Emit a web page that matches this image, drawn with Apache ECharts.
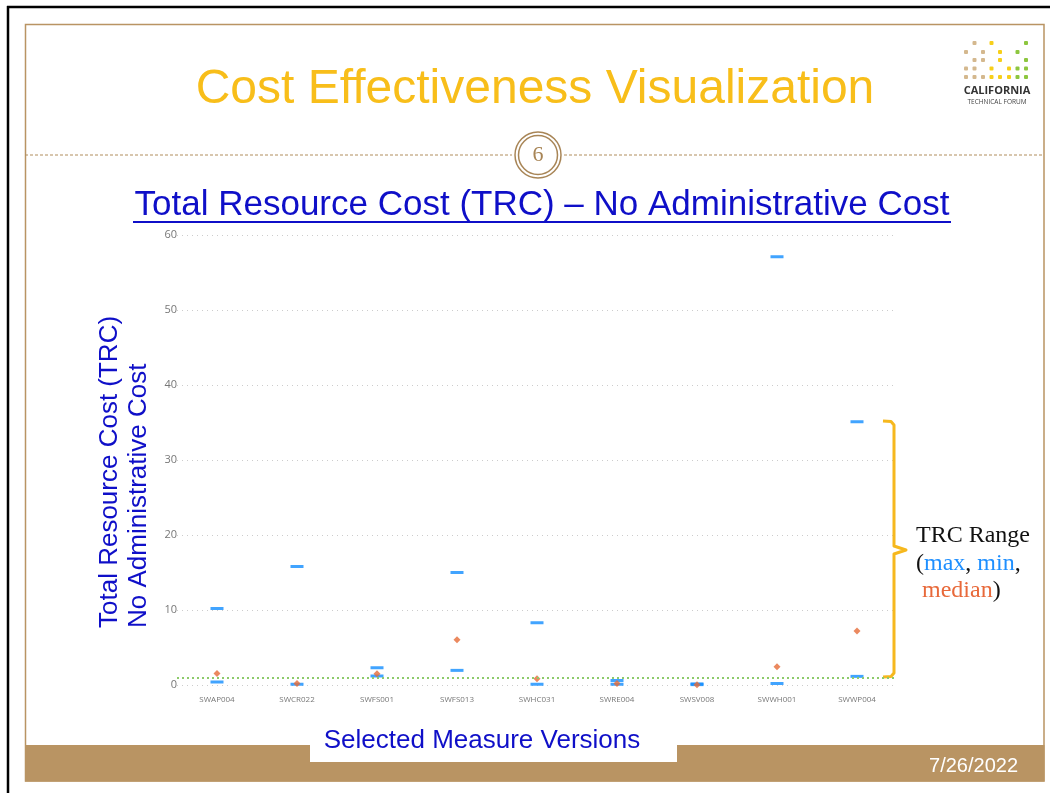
<!DOCTYPE html>
<html>
<head>
<meta charset="utf-8">
<script src="https://cdn.jsdelivr.net/npm/echarts@6/dist/echarts.min.js"></script>
<style>
html,body{margin:0;padding:0;background:#fff;}
#chart{width:1050px;height:793px;}
</style>
</head>
<body>
<div id="chart"></div>
<script>
const categories = ['SWAP004','SWCR022','SWFS001','SWFS013','SWHC031','SWRE004','SWSV008','SWWH001','SWWP004'];
const maxVals = [10.2, 15.8, 2.3, 15.0, 8.3, 0.6, 0.15, 57.1, 35.1];
const minVals = [0.4, 0.1, 1.2, 1.95, 0.1, 0.1, 0.05, 0.2, 1.15];
const medianVals = [1.55, 0.2, 1.5, 6.05, 0.85, 0.2, 0.05, 2.45, 7.2];
const threshold = 1;
const yTicks = [0, 10, 20, 30, 40, 50, 60];

const TAN = '#B99463';
const BLUE_TEXT = '#0F0FC8';

// logo dot layout: [col, row, colorKey]
const logoCols = [966, 974.5, 983, 991.5, 1000, 1009, 1017.5, 1026];
const logoRows = [43, 52, 60, 68.5, 77];
const logoDots = [
  [1,0,'t'],[3,0,'y'],[7,0,'g'],
  [0,1,'t'],[2,1,'t'],[4,1,'y'],[6,1,'g'],
  [1,2,'t'],[2,2,'t'],[4,2,'y'],[7,2,'g'],
  [0,3,'t'],[1,3,'t'],[3,3,'y'],[5,3,'y'],[6,3,'g'],[7,3,'g'],
  [0,4,'t'],[1,4,'t'],[2,4,'t'],[3,4,'y'],[4,4,'y'],[5,4,'y'],[6,4,'g'],[7,4,'g']
];
const dotColors = {t:'#D4B88E', y:'#F7CF1A', g:'#8DC63F'};

const chart = echarts.init(document.getElementById('chart'), null, {renderer:'canvas'});

const SERIF = '"Liberation Serif", "DejaVu Serif", serif';
const graphics = [
  // outer black frame lines
  {type:'line', z:1, shape:{x1:7, y1:7, x2:1050, y2:7}, style:{stroke:'#000', lineWidth:2.5}},
  {type:'line', z:1, shape:{x1:8, y1:6, x2:8, y2:793}, style:{stroke:'#000', lineWidth:2.5}},
  // inner tan frame
  {type:'rect', z:1, shape:{x:25.5, y:24.5, width:1018.5, height:756.5}, style:{fill:null, stroke:TAN, lineWidth:1.5}},
  // bottom band
  {type:'rect', z:2, shape:{x:25, y:745, width:1019.5, height:36.5}, style:{fill:TAN}},
  // white box for x title
  {type:'rect', z:3, shape:{x:310, y:721, width:367, height:41}, style:{fill:'#fff'}},
  {type:'text', z:4, x:482, y:741, style:{text:'Selected Measure Versions', font:'26px "Liberation Sans", Arial, sans-serif', fill:BLUE_TEXT, textAlign:'center', textVerticalAlign:'middle'}},
  {type:'text', z:4, x:1018, y:766, style:{text:'7/26/2022', font:'20px "Liberation Sans", Arial, sans-serif', fill:'#fff', textAlign:'right', textVerticalAlign:'middle'}},
  // main title
  {type:'text', z:4, x:535, y:90, style:{text:'Cost Effectiveness Visualization', font:'48px "Liberation Sans", Arial, sans-serif', fill:'#F8BE1A', textAlign:'center', textVerticalAlign:'middle'}},
  // dashed separator
  {type:'line', z:2, shape:{x1:25, y1:155, x2:512, y2:155}, style:{stroke:'#B08D5C', lineWidth:1, lineDash:[3,2]}},
  {type:'line', z:2, shape:{x1:564, y1:155, x2:1044, y2:155}, style:{stroke:'#B08D5C', lineWidth:1, lineDash:[3,2]}},
  {type:'circle', z:3, shape:{cx:538, cy:155, r:23}, style:{fill:'#fff', stroke:'#A88556', lineWidth:1.5}},
  {type:'circle', z:3, shape:{cx:538, cy:155, r:19.5}, style:{fill:'#fff', stroke:'#A88556', lineWidth:1.5}},
  {type:'text', z:4, x:538, y:155, style:{text:'6', font:'22px ' + SERIF, fill:'#A88556', textAlign:'center', textVerticalAlign:'middle'}},
  // subtitle
  {type:'text', z:4, x:542, y:205, style:{text:'Total Resource Cost (TRC) \u2013 No Administrative Cost', font:'35px "Liberation Sans", Arial, sans-serif', fill:BLUE_TEXT, textAlign:'center', textVerticalAlign:'middle'}},
  {type:'line', z:4, shape:{x1:133, y1:222, x2:951, y2:222}, style:{stroke:BLUE_TEXT, lineWidth:2}},
  // y-axis title (two lines, rotated)
  {type:'text', z:4, x:110, y:628, rotation:Math.PI/2, style:{text:'Total Resource Cost (TRC)', font:'26px "Liberation Sans", Arial, sans-serif', fill:BLUE_TEXT, textAlign:'left', textVerticalAlign:'middle'}},
  {type:'text', z:4, x:139, y:628, rotation:Math.PI/2, style:{text:'No Administrative Cost', font:'26px "Liberation Sans", Arial, sans-serif', fill:BLUE_TEXT, textAlign:'left', textVerticalAlign:'middle'}},
  // brace
  {type:'polyline', z:4, shape:{points:[[883,421],[891,421.5],[894,425],[894,546],[906,550],[894,554],[894,673],[891,676.5],[883,677]]}, style:{stroke:'#F6B81E', lineWidth:3, fill:null, lineJoin:'round'}},
  // TRC Range annotation
  {type:'text', z:4, x:916, y:522, style:{
    text:'{k|TRC Range}\n{k|(}{b|max}{k|, }{b|min}{k|,}\n{k| }{o|median}{k|)}',
    font:'24px ' + SERIF, lineHeight:27.5, textAlign:'left', textVerticalAlign:'top',
    rich:{
      k:{font:'24px ' + SERIF, fill:'#111', lineHeight:27.5},
      b:{font:'24px ' + SERIF, fill:'#1E8FFF', lineHeight:27.5},
      o:{font:'24px ' + SERIF, fill:'#E8693A', lineHeight:27.5}
    }}},
  // logo text
  {type:'text', z:4, x:997, y:91, style:{text:'CALIFORNIA', font:'bold 11px "Open Sans", "DejaVu Sans", sans-serif', fill:'#333', textAlign:'center', textVerticalAlign:'middle'}},
  {type:'text', z:4, x:997, y:102, style:{text:'TECHNICAL FORUM', font:'6.5px "Open Sans", "DejaVu Sans", sans-serif', fill:'#444', textAlign:'center', textVerticalAlign:'middle'}}
];
logoDots.forEach(d => {
  graphics.push({type:'rect', z:4, shape:{x:logoCols[d[0]]-2, y:logoRows[d[1]]-2, width:4, height:4, r:1}, style:{fill:dotColors[d[2]]}});
});

const option = {
  backgroundColor:'#fff',
  animation:false,
  grid:{left:177, right:153, top:235, bottom:108, containLabel:false},
  xAxis:{
    type:'category', data:categories, boundaryGap:true,
    axisLine:{show:false}, axisTick:{show:false},
    axisLabel:{color:'#777', fontSize:8, fontFamily:'"Open Sans", sans-serif', margin:11}
  },
  yAxis:{
    type:'value', min:yTicks[0], max:yTicks[yTicks.length-1], interval:10,
    axisLine:{show:false}, axisTick:{show:false},
    axisLabel:{color:'#777', fontSize:11, fontFamily:'"Open Sans", sans-serif', margin:0},
    splitLine:{lineStyle:{color:'#ccc', type:[1,4], width:1}}
  },
  series:[
    {name:'max', type:'scatter', data:maxVals, symbol:'rect', symbolSize:[13,3], itemStyle:{color:'#118DFF'}, z:3,
     markLine:{silent:true, symbol:'none', label:{show:false}, lineStyle:{color:'#8CCB6A', type:[2,3], width:2}, data:[{yAxis:threshold}]}},
    {name:'min', type:'scatter', data:minVals, symbol:'rect', symbolSize:[13,3], itemStyle:{color:'#118DFF'}, z:3},
    {name:'median', type:'scatter', data:medianVals, symbol:'diamond', symbolSize:7, itemStyle:{color:'#E66C37'}, z:4}
  ],
  graphic:{elements:graphics}
};
chart.setOption(option);
</script>
</body>
</html>
